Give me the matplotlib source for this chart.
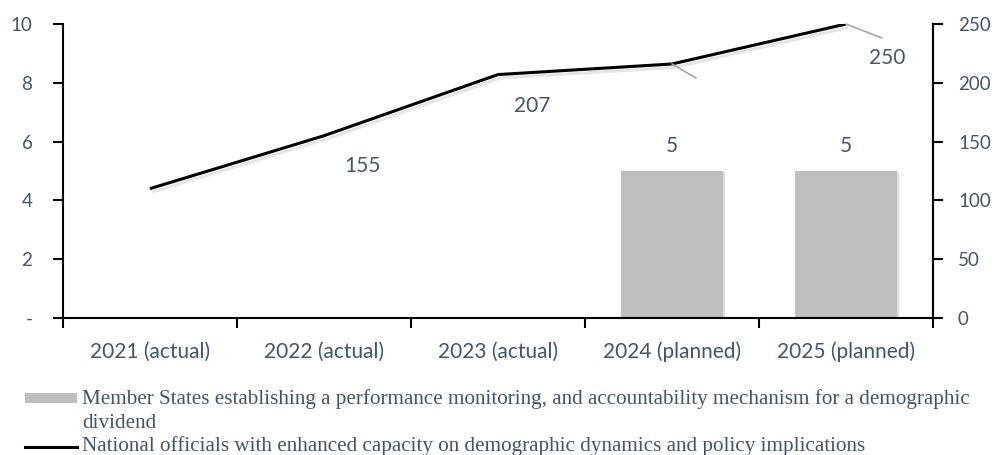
import matplotlib.pyplot as plt
import matplotlib.patheffects as pe
from matplotlib.patches import Rectangle
from matplotlib.lines import Line2D

categories = ['2021 (actual)', '2022 (actual)', '2023 (actual)', '2024 (planned)', '2025 (planned)']
member_states = [None, None, None, 5, 5]
officials = [110, 155, 207, 216, 250]
left_ticks = [0, 2, 4, 6, 8, 10]
left_labels = ['-', '2', '4', '6', '8', '10']
right_ticks = [0, 50, 100, 150, 200, 250]

bar_name = ('Member States establishing a performance monitoring, and accountability '
            'mechanism for a demographic\ndividend')
line_name = 'National officials with enhanced capacity on demographic dynamics and policy implications'

TXT = '#44546A'
SANS = 'Lato'
SERIF = 'Liberation Serif'
FS = 15

fig = plt.figure(figsize=(9.95, 4.55), dpi=100)
ax = fig.add_axes([63 / 995, 1 - 318 / 455, 870 / 995, 294 / 455])
ax2 = ax.twinx()

x = list(range(len(categories)))

# bars (left axis)
bx = [i for i, v in zip(x, member_states) if v is not None]
bv = [v for v in member_states if v is not None]
ax.bar(bx, bv, width=0.59, color='#BFBFBF', zorder=2,
       path_effects=[pe.SimplePatchShadow(offset=(1, -1), shadow_rgbFace='#A0A0A0', alpha=0.35),
                     pe.Normal()])
for xi, v in zip(bx, bv):
    ax.annotate(str(v), (xi, v), xytext=(0, 25), textcoords='offset pixels',
                ha='center', va='center', color=TXT, fontsize=FS, family=SANS)

# line (right axis)
ax2.plot(x, officials, color='black', linewidth=2.2, solid_capstyle='butt',
         path_effects=[pe.SimpleLineShadow(offset=(1.5, -2.5), alpha=0.1, shadow_color='black'),
                       pe.Normal()], zorder=3)

# data labels for the line, placed like the original
ax2.annotate(str(officials[1]), (x[1], officials[1]), xytext=(38, -30), textcoords='offset pixels',
             ha='center', va='center', color=TXT, fontsize=FS, family=SANS)
ax2.annotate(str(officials[2]), (x[2], officials[2]), xytext=(34, -31), textcoords='offset pixels',
             ha='center', va='center', color=TXT, fontsize=FS, family=SANS)
ax2.annotate('', (x[3], officials[3]), xytext=(24, -14), textcoords='offset pixels',
             arrowprops=dict(arrowstyle='-', color='#A6A6A6', lw=1.2, shrinkA=0, shrinkB=0))
ax2.annotate('', (x[4], officials[4]), xytext=(36, -14), textcoords='offset pixels',
             arrowprops=dict(arrowstyle='-', color='#A6A6A6', lw=1.2, shrinkA=0, shrinkB=0))
ax2.annotate(str(officials[4]), (x[4], officials[4]), xytext=(41, -34), textcoords='offset pixels',
             ha='center', va='center', color=TXT, fontsize=FS, family=SANS)

# axes styling
ax.set_xlim(-0.5, len(categories) - 0.5)
ax.set_ylim(0, 10)
ax2.set_ylim(0, 250)
ax.set_yticks(left_ticks)
ax.set_yticklabels(left_labels)
ax2.set_yticks(right_ticks)

ax.set_xticks(x)
ax.set_xticklabels(categories)
ax.set_xticks([i - 0.5 for i in range(len(categories) + 1)], minor=True)
ax.tick_params(axis='x', which='major', length=0, pad=17, labelsize=FS, labelcolor=TXT)
ax.tick_params(axis='x', which='minor', length=7, width=1.5, color='black', direction='out')
ax.tick_params(axis='y', length=7, width=1.5, pad=15, labelsize=13.5, labelcolor=TXT)
ax2.tick_params(axis='y', length=7, width=1.5, pad=11, labelsize=13.5, labelcolor=TXT)
for lab in ax.get_xticklabels() + ax.get_yticklabels() + ax2.get_yticklabels():
    lab.set_family(SANS)

for a in (ax, ax2):
    a.spines['top'].set_visible(False)
    for s in ('left', 'right', 'bottom'):
        a.spines[s].set_linewidth(1.5)
        a.spines[s].set_color('black')
ax2.spines['left'].set_visible(False)
ax2.spines['bottom'].set_visible(False)

# legend drawn by hand to keep the original wrapping
fig.patches.append(Rectangle((25 / 995, 1 - 403 / 455), 52 / 995, 10 / 455,
                             transform=fig.transFigure, facecolor='#BFBFBF', edgecolor='none'))
fig.lines.append(Line2D([25 / 995, 77 / 995], [1 - 447 / 455] * 2, transform=fig.transFigure,
                        color='black', linewidth=2.2))
fig.text(82 / 995, 1 - 411 / 455, bar_name, ha='left', va='center', family=SERIF,
         fontsize=15.2, color=TXT, linespacing=1.4)
fig.text(82 / 995, 1 - 446 / 455, line_name, ha='left', va='center', family=SERIF,
         fontsize=15.2, color=TXT)

fig.savefig('out.png', dpi=100)
